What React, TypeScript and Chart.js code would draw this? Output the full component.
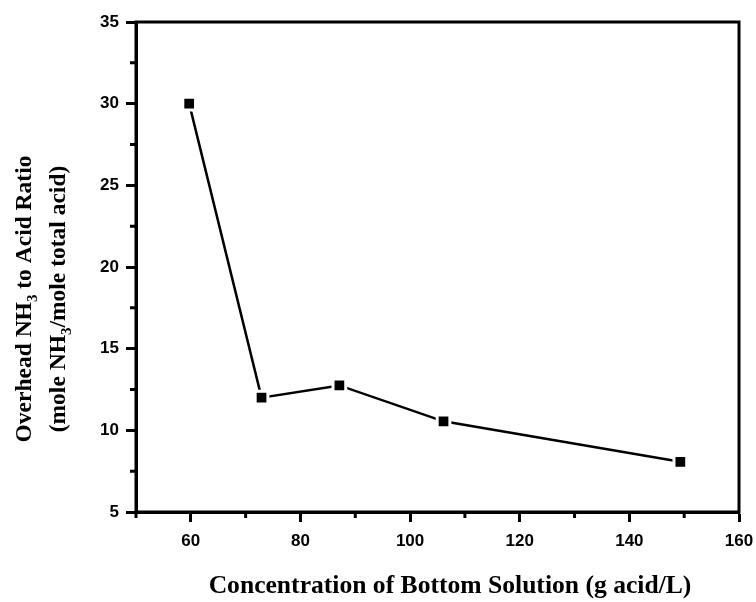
import React, { useEffect, useRef } from "react";
import { Chart, registerables } from "chart.js";

Chart.register(...registerables);

const concentration = [59.7, 72.9, 87.1, 106.1, 149.3];
const ratio = [30.0, 12.0, 12.75, 10.55, 8.07];
const xMajorTicks = [60, 80, 100, 120, 140, 160];
const xMinorTicks = [50, 70, 90, 110, 130, 150];
const yMajorTicks = [5, 10, 15, 20, 25, 30, 35];
const yMinorTicks = [7.5, 12.5, 17.5, 22.5, 27.5, 32.5];

const xTitle = "Concentration of Bottom Solution (g acid/L)";
const yTitleLine1 = [
  { t: "Overhead NH", sub: false },
  { t: "3", sub: true },
  { t: " to Acid Ratio", sub: false },
];
const yTitleLine2 = [
  { t: "(mole NH", sub: false },
  { t: "3", sub: true },
  { t: "/mole total acid)", sub: false },
];

const X_TITLE_FONT = 'bold 25.6px "Liberation Serif", "Times New Roman", serif';
const TITLE_FONT = 'bold 23.5px "Liberation Serif", "Times New Roman", serif';
const SUB_FONT = 'bold 15px "Liberation Serif", "Times New Roman", serif';

function drawRich(ctx: CanvasRenderingContext2D, segs: { t: string; sub: boolean }[], cx: number, cy: number) {
  let total = 0;
  const widths = segs.map((s) => {
    ctx.font = s.sub ? SUB_FONT : TITLE_FONT;
    const w = ctx.measureText(s.t).width;
    total += w;
    return w;
  });
  let x = cx - total / 2;
  segs.forEach((s, i) => {
    ctx.font = s.sub ? SUB_FONT : TITLE_FONT;
    ctx.fillText(s.t, x, cy + (s.sub ? 6 : 0));
    x += widths[i];
  });
}

const decorPlugin = {
  id: "decor",
  afterDraw(chart: any) {
    const { ctx, chartArea } = chart;
    const xs = chart.scales.x;
    const ys = chart.scales.y;
    ctx.save();
    ctx.strokeStyle = "#000";
    ctx.lineWidth = 3;
    // frame
    ctx.strokeRect(chartArea.left, chartArea.top, chartArea.right - chartArea.left, chartArea.bottom - chartArea.top);
    // minor ticks
    ctx.beginPath();
    xMinorTicks.forEach((v) => {
      const px = xs.getPixelForValue(v);
      ctx.moveTo(px, chartArea.bottom);
      ctx.lineTo(px, chartArea.bottom + 6);
    });
    yMinorTicks.forEach((v) => {
      const py = ys.getPixelForValue(v);
      ctx.moveTo(chartArea.left, py);
      ctx.lineTo(chartArea.left - 6, py);
    });
    ctx.stroke();
    // titles
    ctx.fillStyle = "#000";
    ctx.textBaseline = "alphabetic";
    ctx.textAlign = "left";
    ctx.font = X_TITLE_FONT;
    const xw = ctx.measureText(xTitle).width;
    ctx.fillText(xTitle, 450 - xw / 2, 593);
    ctx.translate(0, 299);
    ctx.rotate(-Math.PI / 2);
    drawRich(ctx, yTitleLine1, 0, 31);
    drawRich(ctx, yTitleLine2, 0, 65);
    ctx.restore();
  },
};

export default function App() {
  const ref = useRef<HTMLCanvasElement | null>(null);
  useEffect(() => {
    if (!ref.current) return;
    const tickFont = { family: '"Liberation Sans", Arial, sans-serif', size: 17, weight: "bold" as const };
    const chart = new Chart(ref.current, {
      type: "line",
      data: {
        datasets: [
          {
            data: concentration.map((x, i) => ({ x, y: ratio[i] })),
            borderColor: "#000",
            borderWidth: 2.5,
            backgroundColor: "#000",
            pointStyle: "rect",
            pointRadius: 9,
            pointBorderColor: "#fff",
            pointBorderWidth: 3,
            pointBackgroundColor: "#000",
            tension: 0,
          },
        ],
      },
      options: {
        animation: false,
        responsive: false,
        maintainAspectRatio: false,
        layout: { padding: { top: 22, right: 17, left: 0, bottom: 0 } },
        plugins: { legend: { display: false }, tooltip: { enabled: false } },
        scales: {
          x: {
            type: "linear",
            min: 50,
            max: 160,
            afterBuildTicks: (s: any) => {
              s.ticks = xMajorTicks.map((v) => ({ value: v }));
            },
            afterFit: (s: any) => {
              s.height = 90;
              s.paddingRight = 0;
              s.paddingLeft = 0;
            },
            ticks: { color: "#000", font: tickFont, padding: 9, maxRotation: 0, autoSkip: false },
            grid: { drawOnChartArea: false, tickLength: 10, tickWidth: 3, tickColor: "#000", color: "#000" },
            border: { color: "#000", width: 3 },
          },
          y: {
            type: "linear",
            min: 5,
            max: 35,
            afterBuildTicks: (s: any) => {
              s.ticks = yMajorTicks.map((v) => ({ value: v }));
            },
            afterFit: (s: any) => {
              s.width = 136;
              s.paddingTop = 0;
              s.paddingBottom = 0;
            },
            ticks: { color: "#000", font: tickFont, padding: 7, autoSkip: false },
            grid: { drawOnChartArea: false, tickLength: 10, tickWidth: 3, tickColor: "#000", color: "#000" },
            border: { color: "#000", width: 3 },
          },
        },
      },
      plugins: [decorPlugin],
    });
    return () => chart.destroy();
  }, []);
  return (
    <div style={{ position: "absolute", left: 0, top: 0, width: 756, height: 602, background: "#fff" }}>
      <canvas ref={ref} width={756} height={602} style={{ width: 756, height: 602 }} />
    </div>
  );
}
